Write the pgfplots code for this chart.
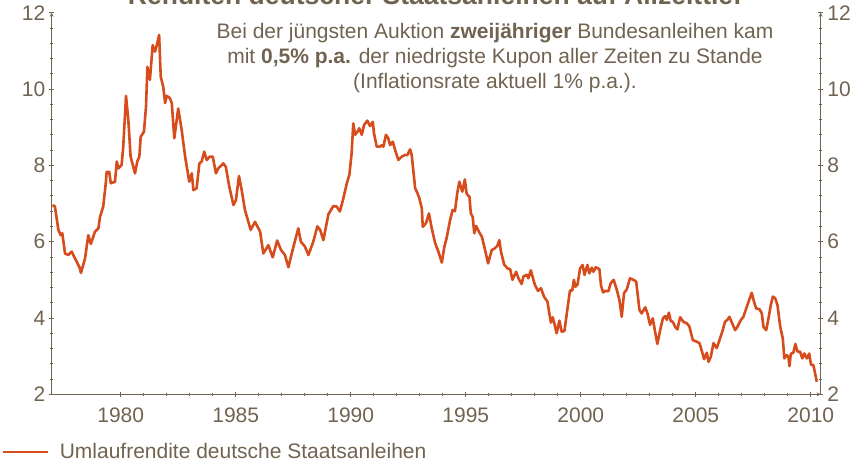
\documentclass[border=0pt]{standalone}
\usepackage{fontspec}
\setmainfont{Liberation Sans}
\usepackage{pgfplots}
\pgfplotsset{compat=1.18}
\definecolor{axiscol}{RGB}{112,99,80}
\definecolor{linecol}{RGB}{214,76,28}
\newcommand{\fs}{\fontsize{21bp}{25bp}\selectfont}
\begin{document}
\begin{tikzpicture}
\path[use as bounding box] (-51.7bp,-69.7bp) rectangle (813.3bp,394.3bp);
\pgfplotsset{common/.style={
  at={(0,0)}, anchor=south west,
  scale only axis, width=769bp, height=381.6bp,
  xmin=1977, xmax=2010.43, ymin=2, ymax=12,
  axis line style={-, axiscol, line width=0.8bp},
  tick align=outside, major tick length=5bp, minor tick length=3bp,
  every tick/.style={axiscol, line width=0.8bp},
  ytick={2,4,6,8,10,12}, yticklabels={2,4,6,8,10,12}, minor y tick num=4,
  tick label style={font=\fs, text=axiscol, inner sep=0pt},
}}
\begin{axis}[common,
  axis x line=bottom, axis y line=left,
  xtick={1980,1985,1990,1995,2000,2005,2010},
  xticklabels={1980,1985,1990,1995,2000,2005,2010},
  minor x tick num=4,
  xticklabel style={yshift=-11bp},
  yticklabel style={xshift=-3.7bp},
  legend style={draw=none, fill=none, at={(axis description cs:0,0)}, anchor=west,
    xshift=-49.7bp, yshift=-57.7bp, font=\fs, text=axiscol, inner sep=0pt,
    nodes={inner sep=0pt}, /tikz/every odd column/.append style={column sep=10bp}},
  legend image code/.code={\draw[#1] (0bp,0bp) -- (45bp,0bp);},
]
\addplot[linecol, line width=2.6bp, line join=round] coordinates {
(1977.04,6.96) (1977.14,6.92) (1977.29,6.31) (1977.39,6.17) (1977.46,6.22)
(1977.58,5.69) (1977.72,5.65) (1977.87,5.74) (1977.94,5.65) (1978.09,5.47)
(1978.23,5.30) (1978.27,5.18) (1978.45,5.56) (1978.59,6.17) (1978.70,5.94)
(1978.88,6.26) (1979.03,6.35) (1979.10,6.65) (1979.24,6.92) (1979.35,7.53)
(1979.39,7.83) (1979.50,7.83) (1979.57,7.53) (1979.75,7.57) (1979.83,8.10)
(1979.90,7.92) (1980.04,8.01) (1980.11,8.49) (1980.23,9.82) (1980.33,9.19)
(1980.43,8.23) (1980.62,7.79) (1980.72,8.10) (1980.81,8.23) (1980.87,8.75)
(1981.01,8.88) (1981.10,9.54) (1981.16,10.58) (1981.27,10.24) (1981.39,11.15)
(1981.49,10.98) (1981.57,11.15) (1981.67,11.42) (1981.74,10.32) (1981.85,10.06)
(1981.93,9.63) (1982.00,9.82) (1982.14,9.76) (1982.22,9.63) (1982.33,8.71)
(1982.50,9.49) (1982.65,8.93) (1982.80,8.23) (1982.98,7.57) (1983.09,7.79)
(1983.16,7.35) (1983.30,7.40) (1983.42,8.05) (1983.52,8.10) (1983.63,8.36)
(1983.74,8.14) (1983.88,8.23) (1984.00,8.23) (1984.14,7.79) (1984.24,7.92)
(1984.46,8.05) (1984.57,7.96) (1984.72,7.44) (1984.90,6.96) (1985.01,7.09)
(1985.14,7.72) (1985.26,7.35) (1985.40,6.83) (1985.65,6.31) (1985.84,6.52)
(1986.06,6.26) (1986.20,5.69) (1986.42,5.91) (1986.57,5.65) (1986.61,5.59)
(1986.80,6.03) (1986.97,5.78) (1987.14,5.65) (1987.29,5.33) (1987.48,5.80)
(1987.72,6.35) (1987.83,6.00) (1988.01,5.87) (1988.16,5.65) (1988.37,6.00)
(1988.55,6.40) (1988.67,6.31) (1988.81,6.04) (1989.03,6.72) (1989.24,6.93)
(1989.39,6.92) (1989.53,6.79) (1989.68,7.14) (1989.83,7.53) (1989.94,7.75)
(1990.04,8.32) (1990.11,9.10) (1990.19,8.80) (1990.29,8.88) (1990.37,8.97)
(1990.48,8.80) (1990.58,9.06) (1990.72,9.17) (1990.84,9.03) (1990.96,9.14)
(1991.01,8.84) (1991.13,8.49) (1991.27,8.49) (1991.35,8.53) (1991.42,8.49)
(1991.53,8.80) (1991.63,8.71) (1991.71,8.53) (1991.83,8.62) (1991.93,8.40)
(1992.07,8.14) (1992.22,8.23) (1992.36,8.27) (1992.46,8.27) (1992.58,8.42)
(1992.65,8.27) (1992.80,7.40) (1992.90,7.27) (1992.98,7.14) (1993.09,6.87)
(1993.13,6.39) (1993.27,6.48) (1993.40,6.74) (1993.52,6.35) (1993.67,5.96)
(1993.81,5.74) (1993.96,5.45) (1994.07,5.87) (1994.17,6.10) (1994.32,6.57)
(1994.43,6.83) (1994.53,6.80) (1994.63,7.27) (1994.72,7.57) (1994.85,7.31)
(1994.96,7.63) (1995.04,7.25) (1995.16,7.18) (1995.22,6.74) (1995.30,6.65)
(1995.37,6.22) (1995.45,6.41) (1995.59,6.24) (1995.70,6.13) (1995.84,5.78)
(1995.97,5.43) (1996.13,5.78) (1996.27,5.83) (1996.37,5.89) (1996.46,6.04)
(1996.53,5.74) (1996.67,5.40) (1996.81,5.30) (1996.93,5.28) (1997.03,5.00)
(1997.19,5.21) (1997.29,5.04) (1997.43,4.89) (1997.51,5.09) (1997.65,5.13)
(1997.72,5.04) (1997.83,5.25) (1997.94,5.00) (1998.01,4.86) (1998.14,4.71)
(1998.27,4.78) (1998.40,4.56) (1998.55,4.43) (1998.70,3.88) (1998.78,4.02)
(1998.85,3.86) (1998.95,3.60) (1999.07,3.93) (1999.17,3.64) (1999.29,3.66)
(1999.40,4.15) (1999.53,4.72) (1999.63,4.72) (1999.70,5.00) (1999.77,4.82)
(1999.86,4.88) (1999.97,5.30) (2000.08,5.39) (2000.16,5.13) (2000.29,5.39)
(2000.37,5.17) (2000.48,5.32) (2000.55,5.21) (2000.65,5.33) (2000.81,5.28)
(2000.88,4.85) (2000.97,4.67) (2001.06,4.71) (2001.20,4.70) (2001.30,4.91)
(2001.43,5.00) (2001.56,4.75) (2001.68,4.47) (2001.78,4.03) (2001.88,4.65)
(2002.00,4.75) (2002.14,5.04) (2002.29,5.00) (2002.41,4.95) (2002.55,4.21)
(2002.65,4.12) (2002.80,4.28) (2002.90,4.12) (2003.01,3.82) (2003.13,3.99)
(2003.23,3.64) (2003.33,3.32) (2003.45,3.68) (2003.57,3.99) (2003.67,4.05)
(2003.74,3.95) (2003.83,4.14) (2003.91,3.92) (2004.00,3.90) (2004.10,3.77)
(2004.20,3.70) (2004.32,4.02) (2004.46,3.90) (2004.61,3.86) (2004.72,3.78)
(2004.87,3.42) (2005.04,3.38) (2005.16,3.34) (2005.26,3.14) (2005.36,2.92)
(2005.48,3.09) (2005.55,2.85) (2005.65,2.98) (2005.77,3.34) (2005.91,3.21)
(2006.03,3.42) (2006.17,3.68) (2006.27,3.90) (2006.37,3.95) (2006.46,4.03)
(2006.61,3.82) (2006.71,3.68) (2006.81,3.77) (2006.96,3.95) (2007.07,4.03)
(2007.22,4.30) (2007.32,4.47) (2007.43,4.66) (2007.53,4.43) (2007.62,4.25)
(2007.77,4.23) (2007.87,4.12) (2007.94,3.77) (2008.06,3.68) (2008.16,3.99)
(2008.26,4.34) (2008.35,4.56) (2008.45,4.52) (2008.55,4.34) (2008.67,3.77)
(2008.78,3.47) (2008.85,2.94) (2008.96,3.03) (2009.03,2.97) (2009.07,2.74)
(2009.13,3.06) (2009.24,3.09) (2009.33,3.32) (2009.42,3.12) (2009.53,3.12)
(2009.63,2.94) (2009.72,3.07) (2009.83,2.94) (2009.93,3.07) (2010.01,2.77)
(2010.11,2.77) (2010.26,2.33)
};
\addlegendentry{Umlaufrendite deutsche Staatsanleihen}
\end{axis}
\begin{axis}[common, axis x line=none, axis y line=right, yticklabel pos=right,
  yticklabel style={xshift=4bp}]
\end{axis}
\node[anchor=base, text=axiscol, font=\fontsize{26.5bp}{30bp}\selectfont\bfseries, inner sep=0pt]
  at (383.3bp,389.8bp) {Renditen deutscher Staatsanleihen auf Allzeittief};
\node[anchor=base, text=axiscol, font=\fs, inner sep=0pt] at (443.3bp,355.3bp)
  {Bei der jüngsten Auktion \textbf{zweijähriger} Bundesanleihen kam};
\node[anchor=base, text=axiscol, font=\fs, inner sep=0pt] at (443.3bp,330.3bp)
  {mit \textbf{0,5\% p.a.} der niedrigste Kupon aller Zeiten zu Stande};
\node[anchor=base, text=axiscol, font=\fs, inner sep=0pt] at (443.3bp,305.3bp)
  {(Inflationsrate aktuell 1\% p.a.).};
\end{tikzpicture}
\end{document}
